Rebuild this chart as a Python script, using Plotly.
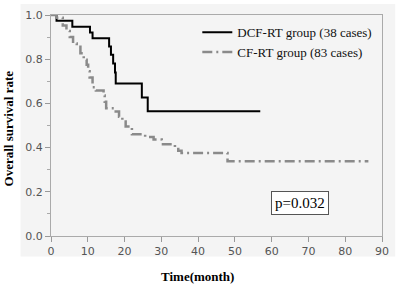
import plotly.graph_objects as go

# DCF-RT group (38 cases) Kaplan-Meier steps
dcf_t = [0, 1.5, 5.8, 10.6, 11.3, 15.8, 16.3, 16.9, 17.4, 17.6, 24.7, 26.3, 56.9]
dcf_s = [1.0, 0.974, 0.947, 0.921, 0.895, 0.857, 0.82, 0.78, 0.74, 0.69, 0.627, 0.565, 0.565]

# CF-RT group (83 cases) Kaplan-Meier steps
cf_t = [0, 1.5, 3.2, 4.2, 5.1, 6.0, 7.0, 8.0, 8.9, 9.7, 10.1, 10.5, 11.3, 12.2, 14.3, 14.6,
        15.0, 17.6, 18.5, 19.4, 20.3, 22.0, 25.6, 27.9, 30.1, 33.7, 34.6, 35.5, 48.0, 86.3]
cf_s = [1.0, 0.988, 0.952, 0.928, 0.90, 0.871, 0.856, 0.827, 0.797, 0.775, 0.746, 0.717, 0.673,
        0.658, 0.636, 0.607, 0.578, 0.563, 0.54, 0.518, 0.496, 0.46, 0.448, 0.437, 0.415, 0.40,
        0.386, 0.376, 0.338, 0.338]

x_ticks = [0, 10, 20, 30, 40, 50, 60, 70, 80, 90]
y_ticks = [0.0, 0.2, 0.4, 0.6, 0.8, 1.0]
y_tick_labels = ["0.0", "0.2", "0.4", "0.6", "0.8", "1.0"]

serif = "Liberation Serif, Times New Roman, serif"
sans = "DejaVu Sans, sans-serif"

fig = go.Figure()
fig.add_trace(go.Scatter(x=dcf_t, y=dcf_s, mode="lines", line_shape="hv",
                         name="DCF-RT group (38 cases)",
                         line=dict(color="#000000", width=2)))
fig.add_trace(go.Scatter(x=cf_t, y=cf_s, mode="lines", line_shape="hv",
                         name="CF-RT group (83 cases)",
                         line=dict(color="#8a8a8a", width=2.5, dash="10px,4px,2px,4px")))

fig.update_layout(
    width=398, height=288,
    margin=dict(l=51, r=11, t=9, b=52),
    paper_bgcolor="#ffffff", plot_bgcolor="#ffffff",
    showlegend=True,
    legend=dict(x=0.442, y=0.99, xanchor="left", yanchor="top",
                bgcolor="rgba(0,0,0,0)", borderwidth=0,
                font=dict(family=serif, size=13, color="#111111"),
                tracegroupgap=0, itemwidth=30),
    xaxis=dict(range=[0, 90], tickvals=x_ticks, ticks="outside", ticklen=5,
               tickcolor="#999999", showgrid=False, zeroline=False,
               showline=True, linecolor="#aaaaaa", linewidth=1, mirror=True,
               tickfont=dict(family=sans, size=11, color="#555555")),
    yaxis=dict(range=[0, 1], tickvals=y_ticks, ticktext=y_tick_labels, ticks="outside",
               ticklen=5, tickcolor="#999999", showgrid=False, zeroline=False,
               showline=True, linecolor="#aaaaaa", linewidth=1, mirror=True,
               minor=dict(dtick=0.1, ticks="outside", ticklen=3, tickcolor="#aaaaaa"),
               tickfont=dict(family=sans, size=11, color="#555555")),
    shapes=[dict(type="rect", xref="paper", yref="paper", x0=-0.092, x1=1.04,
                 y0=-0.0925, y1=1.05, fillcolor="#f4f4f4", line=dict(width=0),
                 layer="below")],
    annotations=[
        dict(text="<b>Overall survival rate</b>", xref="paper", yref="paper",
             x=-0.128, y=0.485, textangle=-90, showarrow=False,
             xanchor="center", yanchor="middle",
             font=dict(family=serif, size=13, color="#000000")),
        dict(text="<b>Time(month)</b>", xref="paper", yref="paper",
             x=0.443, y=-0.185, showarrow=False, xanchor="center", yanchor="middle",
             font=dict(family=serif, size=13, color="#000000")),
        dict(text="p=0.032", xref="x", yref="y", x=67.8, y=0.15, showarrow=False,
             xanchor="center", yanchor="middle",
             font=dict(family=serif, size=15, color="#000000"),
             bordercolor="#555555", borderwidth=1, borderpad=3, bgcolor="#ffffff"),
    ],
)

fig.write_html("out.html", config={"displayModeBar": False},
               post_script="document.body.style.margin='0';")
